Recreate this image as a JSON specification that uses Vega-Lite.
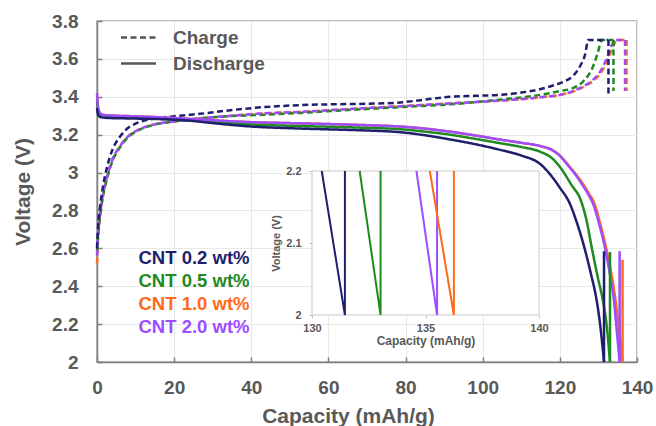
{
  "$schema": "https://vega.github.io/schema/vega-lite/v6.json",
  "autosize": {"type": "none"},
  "padding": {"left": 97, "top": 21, "right": 19, "bottom": 64},
  "width": 540,
  "height": 341,
  "config": {
    "font": "Liberation Sans",
    "view": {"stroke": "#a6a6a6", "strokeWidth": 1.5},
    "background": "white"
  },
  "datasets": {
    "main": [
      {"s":"CNT 1.0 wt%","t":"Charge","i":0,"c":0,"v":2.52},{"s":"CNT 1.0 wt%","t":"Charge","i":1,"c":0.3,"v":2.66},{"s":"CNT 1.0 wt%","t":"Charge","i":2,"c":0.8,"v":2.77},{"s":"CNT 1.0 wt%","t":"Charge","i":3,"c":1.5,"v":2.87},{"s":"CNT 1.0 wt%","t":"Charge","i":4,"c":2.5,"v":2.965},{"s":"CNT 1.0 wt%","t":"Charge","i":5,"c":4,"v":3.065},{"s":"CNT 1.0 wt%","t":"Charge","i":6,"c":6,"v":3.14},{"s":"CNT 1.0 wt%","t":"Charge","i":7,"c":8,"v":3.19},{"s":"CNT 1.0 wt%","t":"Charge","i":8,"c":10,"v":3.218},{"s":"CNT 1.0 wt%","t":"Charge","i":9,"c":14,"v":3.25},{"s":"CNT 1.0 wt%","t":"Charge","i":10,"c":20,"v":3.27},{"s":"CNT 1.0 wt%","t":"Charge","i":11,"c":26.7,"v":3.286},{"s":"CNT 1.0 wt%","t":"Charge","i":12,"c":35,"v":3.3},{"s":"CNT 1.0 wt%","t":"Charge","i":13,"c":43,"v":3.312},{"s":"CNT 1.0 wt%","t":"Charge","i":14,"c":52.6,"v":3.32},{"s":"CNT 1.0 wt%","t":"Charge","i":15,"c":65,"v":3.335},{"s":"CNT 1.0 wt%","t":"Charge","i":16,"c":78.6,"v":3.35},{"s":"CNT 1.0 wt%","t":"Charge","i":17,"c":91.5,"v":3.365},{"s":"CNT 1.0 wt%","t":"Charge","i":18,"c":104.5,"v":3.38},{"s":"CNT 1.0 wt%","t":"Charge","i":19,"c":114.9,"v":3.397},{"s":"CNT 1.0 wt%","t":"Charge","i":20,"c":120,"v":3.41},{"s":"CNT 1.0 wt%","t":"Charge","i":21,"c":123.8,"v":3.43},{"s":"CNT 1.0 wt%","t":"Charge","i":22,"c":126.4,"v":3.455},{"s":"CNT 1.0 wt%","t":"Charge","i":23,"c":129,"v":3.49},{"s":"CNT 1.0 wt%","t":"Charge","i":24,"c":130.4,"v":3.52},{"s":"CNT 1.0 wt%","t":"Charge","i":25,"c":131.6,"v":3.56},{"s":"CNT 1.0 wt%","t":"Charge","i":26,"c":132.9,"v":3.62},{"s":"CNT 1.0 wt%","t":"Charge","i":27,"c":133.9,"v":3.67},{"s":"CNT 1.0 wt%","t":"Charge","i":28,"c":134.8,"v":3.7},{"s":"CNT 1.0 wt%","t":"Charge","i":29,"c":137.3,"v":3.7},
      {"s":"CNT 0.5 wt%","t":"Charge","i":0,"c":0,"v":2.58},{"s":"CNT 0.5 wt%","t":"Charge","i":1,"c":0.3,"v":2.67},{"s":"CNT 0.5 wt%","t":"Charge","i":2,"c":0.8,"v":2.77},{"s":"CNT 0.5 wt%","t":"Charge","i":3,"c":1.5,"v":2.87},{"s":"CNT 0.5 wt%","t":"Charge","i":4,"c":2.5,"v":2.96},{"s":"CNT 0.5 wt%","t":"Charge","i":5,"c":4,"v":3.06},{"s":"CNT 0.5 wt%","t":"Charge","i":6,"c":6,"v":3.135},{"s":"CNT 0.5 wt%","t":"Charge","i":7,"c":8,"v":3.185},{"s":"CNT 0.5 wt%","t":"Charge","i":8,"c":10,"v":3.215},{"s":"CNT 0.5 wt%","t":"Charge","i":9,"c":14,"v":3.248},{"s":"CNT 0.5 wt%","t":"Charge","i":10,"c":20,"v":3.27},{"s":"CNT 0.5 wt%","t":"Charge","i":11,"c":26.7,"v":3.286},{"s":"CNT 0.5 wt%","t":"Charge","i":12,"c":35,"v":3.298},{"s":"CNT 0.5 wt%","t":"Charge","i":13,"c":43,"v":3.305},{"s":"CNT 0.5 wt%","t":"Charge","i":14,"c":52.6,"v":3.315},{"s":"CNT 0.5 wt%","t":"Charge","i":15,"c":65,"v":3.33},{"s":"CNT 0.5 wt%","t":"Charge","i":16,"c":78.6,"v":3.345},{"s":"CNT 0.5 wt%","t":"Charge","i":17,"c":91.5,"v":3.36},{"s":"CNT 0.5 wt%","t":"Charge","i":18,"c":104.5,"v":3.385},{"s":"CNT 0.5 wt%","t":"Charge","i":19,"c":114.9,"v":3.41},{"s":"CNT 0.5 wt%","t":"Charge","i":20,"c":120,"v":3.43},{"s":"CNT 0.5 wt%","t":"Charge","i":21,"c":123.4,"v":3.446},{"s":"CNT 0.5 wt%","t":"Charge","i":22,"c":126,"v":3.48},{"s":"CNT 0.5 wt%","t":"Charge","i":23,"c":128.6,"v":3.56},{"s":"CNT 0.5 wt%","t":"Charge","i":24,"c":129.8,"v":3.63},{"s":"CNT 0.5 wt%","t":"Charge","i":25,"c":130.9,"v":3.7},{"s":"CNT 0.5 wt%","t":"Charge","i":26,"c":133.9,"v":3.7},
      {"s":"CNT 2.0 wt%","t":"Charge","i":0,"c":0,"v":2.56},{"s":"CNT 2.0 wt%","t":"Charge","i":1,"c":0.3,"v":2.68},{"s":"CNT 2.0 wt%","t":"Charge","i":2,"c":0.8,"v":2.78},{"s":"CNT 2.0 wt%","t":"Charge","i":3,"c":1.5,"v":2.88},{"s":"CNT 2.0 wt%","t":"Charge","i":4,"c":2.5,"v":2.97},{"s":"CNT 2.0 wt%","t":"Charge","i":5,"c":4,"v":3.07},{"s":"CNT 2.0 wt%","t":"Charge","i":6,"c":6,"v":3.14},{"s":"CNT 2.0 wt%","t":"Charge","i":7,"c":8,"v":3.19},{"s":"CNT 2.0 wt%","t":"Charge","i":8,"c":10,"v":3.218},{"s":"CNT 2.0 wt%","t":"Charge","i":9,"c":14,"v":3.25},{"s":"CNT 2.0 wt%","t":"Charge","i":10,"c":20,"v":3.27},{"s":"CNT 2.0 wt%","t":"Charge","i":11,"c":26.7,"v":3.286},{"s":"CNT 2.0 wt%","t":"Charge","i":12,"c":35,"v":3.3},{"s":"CNT 2.0 wt%","t":"Charge","i":13,"c":43,"v":3.312},{"s":"CNT 2.0 wt%","t":"Charge","i":14,"c":52.6,"v":3.32},{"s":"CNT 2.0 wt%","t":"Charge","i":15,"c":65,"v":3.335},{"s":"CNT 2.0 wt%","t":"Charge","i":16,"c":78.6,"v":3.35},{"s":"CNT 2.0 wt%","t":"Charge","i":17,"c":91.5,"v":3.365},{"s":"CNT 2.0 wt%","t":"Charge","i":18,"c":104.5,"v":3.38},{"s":"CNT 2.0 wt%","t":"Charge","i":19,"c":114.9,"v":3.397},{"s":"CNT 2.0 wt%","t":"Charge","i":20,"c":120,"v":3.41},{"s":"CNT 2.0 wt%","t":"Charge","i":21,"c":123.4,"v":3.43},{"s":"CNT 2.0 wt%","t":"Charge","i":22,"c":126,"v":3.455},{"s":"CNT 2.0 wt%","t":"Charge","i":23,"c":128.6,"v":3.49},{"s":"CNT 2.0 wt%","t":"Charge","i":24,"c":130,"v":3.52},{"s":"CNT 2.0 wt%","t":"Charge","i":25,"c":131.2,"v":3.56},{"s":"CNT 2.0 wt%","t":"Charge","i":26,"c":132.5,"v":3.62},{"s":"CNT 2.0 wt%","t":"Charge","i":27,"c":133.4,"v":3.67},{"s":"CNT 2.0 wt%","t":"Charge","i":28,"c":134.3,"v":3.7},{"s":"CNT 2.0 wt%","t":"Charge","i":29,"c":136.9,"v":3.7},
      {"s":"CNT 0.2 wt%","t":"Charge","i":0,"c":0,"v":2.6},{"s":"CNT 0.2 wt%","t":"Charge","i":1,"c":0.3,"v":2.72},{"s":"CNT 0.2 wt%","t":"Charge","i":2,"c":0.8,"v":2.82},{"s":"CNT 0.2 wt%","t":"Charge","i":3,"c":1.5,"v":2.92},{"s":"CNT 0.2 wt%","t":"Charge","i":4,"c":2.5,"v":3.02},{"s":"CNT 0.2 wt%","t":"Charge","i":5,"c":4,"v":3.12},{"s":"CNT 0.2 wt%","t":"Charge","i":6,"c":6,"v":3.19},{"s":"CNT 0.2 wt%","t":"Charge","i":7,"c":8,"v":3.235},{"s":"CNT 0.2 wt%","t":"Charge","i":8,"c":10,"v":3.258},{"s":"CNT 0.2 wt%","t":"Charge","i":9,"c":14,"v":3.282},{"s":"CNT 0.2 wt%","t":"Charge","i":10,"c":20,"v":3.297},{"s":"CNT 0.2 wt%","t":"Charge","i":11,"c":26.7,"v":3.31},{"s":"CNT 0.2 wt%","t":"Charge","i":12,"c":35,"v":3.33},{"s":"CNT 0.2 wt%","t":"Charge","i":13,"c":43,"v":3.345},{"s":"CNT 0.2 wt%","t":"Charge","i":14,"c":52.6,"v":3.356},{"s":"CNT 0.2 wt%","t":"Charge","i":15,"c":60,"v":3.36},{"s":"CNT 0.2 wt%","t":"Charge","i":16,"c":70,"v":3.363},{"s":"CNT 0.2 wt%","t":"Charge","i":17,"c":78.6,"v":3.37},{"s":"CNT 0.2 wt%","t":"Charge","i":18,"c":85,"v":3.385},{"s":"CNT 0.2 wt%","t":"Charge","i":19,"c":91.5,"v":3.4},{"s":"CNT 0.2 wt%","t":"Charge","i":20,"c":98,"v":3.405},{"s":"CNT 0.2 wt%","t":"Charge","i":21,"c":104.5,"v":3.41},{"s":"CNT 0.2 wt%","t":"Charge","i":22,"c":110,"v":3.422},{"s":"CNT 0.2 wt%","t":"Charge","i":23,"c":114.9,"v":3.44},{"s":"CNT 0.2 wt%","t":"Charge","i":24,"c":118,"v":3.458},{"s":"CNT 0.2 wt%","t":"Charge","i":25,"c":121,"v":3.48},{"s":"CNT 0.2 wt%","t":"Charge","i":26,"c":123.4,"v":3.51},{"s":"CNT 0.2 wt%","t":"Charge","i":27,"c":125.2,"v":3.56},{"s":"CNT 0.2 wt%","t":"Charge","i":28,"c":126.5,"v":3.62},{"s":"CNT 0.2 wt%","t":"Charge","i":29,"c":127.4,"v":3.7},{"s":"CNT 0.2 wt%","t":"Charge","i":30,"c":132.6,"v":3.7},
      {"s":"CNT 1.0 wt%","t":"Discharge","i":0,"c":0,"v":3.4},{"s":"CNT 1.0 wt%","t":"Discharge","i":1,"c":0.2,"v":3.355},{"s":"CNT 1.0 wt%","t":"Discharge","i":2,"c":0.6,"v":3.32},{"s":"CNT 1.0 wt%","t":"Discharge","i":3,"c":1.5,"v":3.305},{"s":"CNT 1.0 wt%","t":"Discharge","i":4,"c":5,"v":3.3},{"s":"CNT 1.0 wt%","t":"Discharge","i":5,"c":10,"v":3.297},{"s":"CNT 1.0 wt%","t":"Discharge","i":6,"c":20,"v":3.288},{"s":"CNT 1.0 wt%","t":"Discharge","i":7,"c":25,"v":3.282},{"s":"CNT 1.0 wt%","t":"Discharge","i":8,"c":30,"v":3.276},{"s":"CNT 1.0 wt%","t":"Discharge","i":9,"c":40,"v":3.266},{"s":"CNT 1.0 wt%","t":"Discharge","i":10,"c":50,"v":3.261},{"s":"CNT 1.0 wt%","t":"Discharge","i":11,"c":60,"v":3.256},{"s":"CNT 1.0 wt%","t":"Discharge","i":12,"c":70,"v":3.25},{"s":"CNT 1.0 wt%","t":"Discharge","i":13,"c":78.6,"v":3.243},{"s":"CNT 1.0 wt%","t":"Discharge","i":14,"c":85,"v":3.232},{"s":"CNT 1.0 wt%","t":"Discharge","i":15,"c":91.5,"v":3.216},{"s":"CNT 1.0 wt%","t":"Discharge","i":16,"c":98,"v":3.196},{"s":"CNT 1.0 wt%","t":"Discharge","i":17,"c":104.5,"v":3.174},{"s":"CNT 1.0 wt%","t":"Discharge","i":18,"c":110,"v":3.157},{"s":"CNT 1.0 wt%","t":"Discharge","i":19,"c":114.9,"v":3.14},{"s":"CNT 1.0 wt%","t":"Discharge","i":20,"c":118,"v":3.12},{"s":"CNT 1.0 wt%","t":"Discharge","i":21,"c":120,"v":3.09},{"s":"CNT 1.0 wt%","t":"Discharge","i":22,"c":122,"v":3.045},{"s":"CNT 1.0 wt%","t":"Discharge","i":23,"c":124,"v":2.995},{"s":"CNT 1.0 wt%","t":"Discharge","i":24,"c":126,"v":2.94},{"s":"CNT 1.0 wt%","t":"Discharge","i":25,"c":127.5,"v":2.89},{"s":"CNT 1.0 wt%","t":"Discharge","i":26,"c":128.8,"v":2.845},{"s":"CNT 1.0 wt%","t":"Discharge","i":27,"c":130.6,"v":2.72},{"s":"CNT 1.0 wt%","t":"Discharge","i":28,"c":132.1,"v":2.593},{"s":"CNT 1.0 wt%","t":"Discharge","i":29,"c":133.4,"v":2.46},{"s":"CNT 1.0 wt%","t":"Discharge","i":30,"c":134.4,"v":2.33},{"s":"CNT 1.0 wt%","t":"Discharge","i":31,"c":135.2,"v":2.2},{"s":"CNT 1.0 wt%","t":"Discharge","i":32,"c":136.25,"v":2.0},
      {"s":"CNT 0.5 wt%","t":"Discharge","i":0,"c":0,"v":3.38},{"s":"CNT 0.5 wt%","t":"Discharge","i":1,"c":0.3,"v":3.32},{"s":"CNT 0.5 wt%","t":"Discharge","i":2,"c":1,"v":3.305},{"s":"CNT 0.5 wt%","t":"Discharge","i":3,"c":3,"v":3.298},{"s":"CNT 0.5 wt%","t":"Discharge","i":4,"c":10,"v":3.29},{"s":"CNT 0.5 wt%","t":"Discharge","i":5,"c":20,"v":3.28},{"s":"CNT 0.5 wt%","t":"Discharge","i":6,"c":25,"v":3.274},{"s":"CNT 0.5 wt%","t":"Discharge","i":7,"c":30,"v":3.266},{"s":"CNT 0.5 wt%","t":"Discharge","i":8,"c":40,"v":3.254},{"s":"CNT 0.5 wt%","t":"Discharge","i":9,"c":50,"v":3.247},{"s":"CNT 0.5 wt%","t":"Discharge","i":10,"c":60,"v":3.242},{"s":"CNT 0.5 wt%","t":"Discharge","i":11,"c":70,"v":3.236},{"s":"CNT 0.5 wt%","t":"Discharge","i":12,"c":78.6,"v":3.229},{"s":"CNT 0.5 wt%","t":"Discharge","i":13,"c":85,"v":3.216},{"s":"CNT 0.5 wt%","t":"Discharge","i":14,"c":91.5,"v":3.2},{"s":"CNT 0.5 wt%","t":"Discharge","i":15,"c":98,"v":3.178},{"s":"CNT 0.5 wt%","t":"Discharge","i":16,"c":104.5,"v":3.155},{"s":"CNT 0.5 wt%","t":"Discharge","i":17,"c":110,"v":3.135},{"s":"CNT 0.5 wt%","t":"Discharge","i":18,"c":114.9,"v":3.11},{"s":"CNT 0.5 wt%","t":"Discharge","i":19,"c":118,"v":3.075},{"s":"CNT 0.5 wt%","t":"Discharge","i":20,"c":120,"v":3.03},{"s":"CNT 0.5 wt%","t":"Discharge","i":21,"c":123,"v":2.935},{"s":"CNT 0.5 wt%","t":"Discharge","i":22,"c":125.5,"v":2.85},{"s":"CNT 0.5 wt%","t":"Discharge","i":23,"c":127,"v":2.74},{"s":"CNT 0.5 wt%","t":"Discharge","i":24,"c":128.3,"v":2.6},{"s":"CNT 0.5 wt%","t":"Discharge","i":25,"c":129.8,"v":2.45},{"s":"CNT 0.5 wt%","t":"Discharge","i":26,"c":131.2,"v":2.32},{"s":"CNT 0.5 wt%","t":"Discharge","i":27,"c":132.1,"v":2.2},{"s":"CNT 0.5 wt%","t":"Discharge","i":28,"c":133.0,"v":2.0},
      {"s":"CNT 2.0 wt%","t":"Discharge","i":0,"c":0,"v":3.42},{"s":"CNT 2.0 wt%","t":"Discharge","i":1,"c":0.2,"v":3.36},{"s":"CNT 2.0 wt%","t":"Discharge","i":2,"c":0.6,"v":3.32},{"s":"CNT 2.0 wt%","t":"Discharge","i":3,"c":1.5,"v":3.305},{"s":"CNT 2.0 wt%","t":"Discharge","i":4,"c":5,"v":3.3},{"s":"CNT 2.0 wt%","t":"Discharge","i":5,"c":10,"v":3.297},{"s":"CNT 2.0 wt%","t":"Discharge","i":6,"c":20,"v":3.288},{"s":"CNT 2.0 wt%","t":"Discharge","i":7,"c":25,"v":3.282},{"s":"CNT 2.0 wt%","t":"Discharge","i":8,"c":30,"v":3.276},{"s":"CNT 2.0 wt%","t":"Discharge","i":9,"c":40,"v":3.266},{"s":"CNT 2.0 wt%","t":"Discharge","i":10,"c":50,"v":3.261},{"s":"CNT 2.0 wt%","t":"Discharge","i":11,"c":60,"v":3.256},{"s":"CNT 2.0 wt%","t":"Discharge","i":12,"c":70,"v":3.25},{"s":"CNT 2.0 wt%","t":"Discharge","i":13,"c":78.6,"v":3.243},{"s":"CNT 2.0 wt%","t":"Discharge","i":14,"c":85,"v":3.232},{"s":"CNT 2.0 wt%","t":"Discharge","i":15,"c":91.5,"v":3.216},{"s":"CNT 2.0 wt%","t":"Discharge","i":16,"c":98,"v":3.196},{"s":"CNT 2.0 wt%","t":"Discharge","i":17,"c":104.5,"v":3.174},{"s":"CNT 2.0 wt%","t":"Discharge","i":18,"c":110,"v":3.157},{"s":"CNT 2.0 wt%","t":"Discharge","i":19,"c":114.9,"v":3.14},{"s":"CNT 2.0 wt%","t":"Discharge","i":20,"c":118,"v":3.118},{"s":"CNT 2.0 wt%","t":"Discharge","i":21,"c":120,"v":3.088},{"s":"CNT 2.0 wt%","t":"Discharge","i":22,"c":122,"v":3.04},{"s":"CNT 2.0 wt%","t":"Discharge","i":23,"c":124,"v":2.99},{"s":"CNT 2.0 wt%","t":"Discharge","i":24,"c":126,"v":2.93},{"s":"CNT 2.0 wt%","t":"Discharge","i":25,"c":127.5,"v":2.88},{"s":"CNT 2.0 wt%","t":"Discharge","i":26,"c":128.5,"v":2.84},{"s":"CNT 2.0 wt%","t":"Discharge","i":27,"c":130.3,"v":2.72},{"s":"CNT 2.0 wt%","t":"Discharge","i":28,"c":131.8,"v":2.593},{"s":"CNT 2.0 wt%","t":"Discharge","i":29,"c":133,"v":2.46},{"s":"CNT 2.0 wt%","t":"Discharge","i":30,"c":134,"v":2.33},{"s":"CNT 2.0 wt%","t":"Discharge","i":31,"c":134.6,"v":2.2},{"s":"CNT 2.0 wt%","t":"Discharge","i":32,"c":135.5,"v":2.0},
      {"s":"CNT 0.2 wt%","t":"Discharge","i":0,"c":0,"v":3.34},{"s":"CNT 0.2 wt%","t":"Discharge","i":1,"c":0.3,"v":3.305},{"s":"CNT 0.2 wt%","t":"Discharge","i":2,"c":1,"v":3.292},{"s":"CNT 0.2 wt%","t":"Discharge","i":3,"c":3,"v":3.288},{"s":"CNT 0.2 wt%","t":"Discharge","i":4,"c":10,"v":3.285},{"s":"CNT 0.2 wt%","t":"Discharge","i":5,"c":20,"v":3.279},{"s":"CNT 0.2 wt%","t":"Discharge","i":6,"c":25,"v":3.272},{"s":"CNT 0.2 wt%","t":"Discharge","i":7,"c":30,"v":3.261},{"s":"CNT 0.2 wt%","t":"Discharge","i":8,"c":40,"v":3.243},{"s":"CNT 0.2 wt%","t":"Discharge","i":9,"c":50,"v":3.234},{"s":"CNT 0.2 wt%","t":"Discharge","i":10,"c":60,"v":3.228},{"s":"CNT 0.2 wt%","t":"Discharge","i":11,"c":70,"v":3.222},{"s":"CNT 0.2 wt%","t":"Discharge","i":12,"c":78.6,"v":3.213},{"s":"CNT 0.2 wt%","t":"Discharge","i":13,"c":85,"v":3.197},{"s":"CNT 0.2 wt%","t":"Discharge","i":14,"c":91.5,"v":3.175},{"s":"CNT 0.2 wt%","t":"Discharge","i":15,"c":98,"v":3.15},{"s":"CNT 0.2 wt%","t":"Discharge","i":16,"c":104.5,"v":3.12},{"s":"CNT 0.2 wt%","t":"Discharge","i":17,"c":110,"v":3.09},{"s":"CNT 0.2 wt%","t":"Discharge","i":18,"c":114.9,"v":3.045},{"s":"CNT 0.2 wt%","t":"Discharge","i":19,"c":117.5,"v":2.99},{"s":"CNT 0.2 wt%","t":"Discharge","i":20,"c":120,"v":2.92},{"s":"CNT 0.2 wt%","t":"Discharge","i":21,"c":122.5,"v":2.84},{"s":"CNT 0.2 wt%","t":"Discharge","i":22,"c":124.5,"v":2.73},{"s":"CNT 0.2 wt%","t":"Discharge","i":23,"c":126.5,"v":2.593},{"s":"CNT 0.2 wt%","t":"Discharge","i":24,"c":128,"v":2.47},{"s":"CNT 0.2 wt%","t":"Discharge","i":25,"c":129.5,"v":2.33},{"s":"CNT 0.2 wt%","t":"Discharge","i":26,"c":130.43,"v":2.2},{"s":"CNT 0.2 wt%","t":"Discharge","i":27,"c":131.45,"v":2.0}
    ],
    "jumps": [
      {"s":"CNT 1.0 wt%","t":"Charge","i":0,"c":137.3,"v":3.7},{"s":"CNT 1.0 wt%","t":"Charge","i":1,"c":137.3,"v":3.43},
      {"s":"CNT 0.5 wt%","t":"Charge","i":0,"c":133.9,"v":3.7},{"s":"CNT 0.5 wt%","t":"Charge","i":1,"c":133.9,"v":3.43},
      {"s":"CNT 2.0 wt%","t":"Charge","i":0,"c":136.9,"v":3.7},{"s":"CNT 2.0 wt%","t":"Charge","i":1,"c":136.9,"v":3.43},
      {"s":"CNT 0.2 wt%","t":"Charge","i":0,"c":132.6,"v":3.7},{"s":"CNT 0.2 wt%","t":"Charge","i":1,"c":132.6,"v":3.41},
      {"s":"CNT 1.0 wt%","t":"Discharge","i":0,"c":136.25,"v":2.0},{"s":"CNT 1.0 wt%","t":"Discharge","i":1,"c":136.25,"v":2.54},
      {"s":"CNT 0.5 wt%","t":"Discharge","i":0,"c":133.0,"v":2.0},{"s":"CNT 0.5 wt%","t":"Discharge","i":1,"c":133.0,"v":2.58},
      {"s":"CNT 2.0 wt%","t":"Discharge","i":0,"c":135.5,"v":2.0},{"s":"CNT 2.0 wt%","t":"Discharge","i":1,"c":135.5,"v":2.585},
      {"s":"CNT 0.2 wt%","t":"Discharge","i":0,"c":131.45,"v":2.0},{"s":"CNT 0.2 wt%","t":"Discharge","i":1,"c":131.45,"v":2.585}
    ],
    "inset": [
      {"s":"CNT 0.2 wt%","i":0,"c":130.43,"v":2.2},{"s":"CNT 0.2 wt%","i":1,"c":131.45,"v":2.0},{"s":"CNT 0.2 wt%","i":2,"c":131.45,"v":2.2},
      {"s":"CNT 0.5 wt%","i":0,"c":132.1,"v":2.2},{"s":"CNT 0.5 wt%","i":1,"c":133.02,"v":2.0},{"s":"CNT 0.5 wt%","i":2,"c":133.02,"v":2.2},
      {"s":"CNT 2.0 wt%","i":0,"c":134.6,"v":2.2},{"s":"CNT 2.0 wt%","i":1,"c":135.51,"v":2.0},{"s":"CNT 2.0 wt%","i":2,"c":135.51,"v":2.2},
      {"s":"CNT 1.0 wt%","i":0,"c":135.19,"v":2.2},{"s":"CNT 1.0 wt%","i":1,"c":136.25,"v":2.0},{"s":"CNT 1.0 wt%","i":2,"c":136.25,"v":2.2}
    ],
    "box": [{"x1":130,"x2":140,"y1":2,"y2":2.2}]
  },
  "layer": [
    {
      "encoding": {
        "x": {"field": "c", "type": "quantitative",
          "scale": {"domain": [0, 140], "nice": false},
          "axis": {"values": [0,20,40,60,80,100,120,140], "title": "Capacity (mAh/g)", "labelFlush": false,
            "grid": true, "gridColor": "#e8e8e8", "domainColor": "#7f7f7f", "domainWidth": 1.5,
            "tickColor": "#7f7f7f", "tickSize": -5, "tickWidth": 1.5,
            "labelFont": "Liberation Sans", "labelFontSize": 19, "labelFontWeight": "bold", "labelColor": "#595959", "labelPadding": 21,
            "titleFont": "Liberation Sans", "titleFontSize": 21, "titleFontWeight": "bold", "titleColor": "#595959", "titlePadding": 8, "titleX": 251}},
        "y": {"field": "v", "type": "quantitative",
          "scale": {"domain": [2, 3.8], "nice": false, "zero": false},
          "axis": {"values": [2,2.2,2.4,2.6,2.8,3,3.2,3.4,3.6,3.8], "format": "~g", "title": "Voltage (V)",
            "grid": true, "gridColor": "#e8e8e8", "domainColor": "#7f7f7f", "domainWidth": 1.5,
            "tickColor": "#7f7f7f", "tickSize": -5, "tickWidth": 1.5,
            "labelFont": "Liberation Sans", "labelFontSize": 19, "labelFontWeight": "bold", "labelColor": "#595959", "labelPadding": 24,
            "titleFont": "Liberation Sans", "titleFontSize": 21, "titleFontWeight": "bold", "titleColor": "#595959", "titlePadding": 18}},
        "color": {"field": "s", "type": "nominal",
          "scale": {"domain": ["CNT 0.2 wt%","CNT 0.5 wt%","CNT 1.0 wt%","CNT 2.0 wt%"], "range": ["#1f1f6e","#1f8a1f","#ff6a1a","#9d4dff"]},
          "legend": {"orient": "none", "legendX": 23, "legendY": 228, "title": null, "padding": 0,
            "symbolSize": 0, "symbolOpacity": 0, "symbolStrokeWidth": 0, "labelOffset": 0, "rowPadding": 4,
            "labelFont": "Liberation Sans", "labelFontSize": 18.5, "labelFontWeight": "bold",
            "encode": {"labels": {"update": {"fill": {"scale": "color", "field": "value"}}}}}},
        "strokeDash": {"field": "t", "type": "nominal",
          "scale": {"domain": ["Charge","Discharge"], "range": [[6,3.5],[1,0]]},
          "legend": {"orient": "none", "legendX": 32, "legendY": 7, "title": null, "padding": 0,
            "symbolType": "M-3.5,0H3.5", "symbolSize": 100, "symbolStrokeColor": "#555555", "symbolStrokeWidth": 2.5,
            "labelOffset": 25, "rowPadding": 6,
            "labelFont": "Liberation Sans", "labelFontSize": 19, "labelFontWeight": "bold", "labelColor": "#595959"}},
        "order": {"field": "i", "type": "quantitative"}
      },
      "layer": [
        {"data": {"name": "main"}, "mark": {"type": "line", "strokeWidth": 2.5, "interpolate": "monotone"}},
        {"data": {"name": "jumps"}, "mark": {"type": "line", "strokeWidth": 2.5}}
      ]
    },
    {
      "layer": [
        {
          "data": {"name": "box"},
          "mark": {"type": "rect", "fill": "white", "stroke": "#c8c8c8", "strokeWidth": 1},
          "encoding": {
            "x": {"field": "x1", "type": "quantitative",
              "scale": {"domain": [130, 140], "range": [215, 442], "nice": false, "zero": false},
              "axis": {"orient": "bottom", "offset": -47, "values": [130,135,140], "title": "Capacity (mAh/g)",
                "grid": false, "domain": false, "tickColor": "#bfbfbf", "tickSize": 3, "labelFlush": false,
                "labelFont": "Liberation Sans", "labelFontSize": 11, "labelFontWeight": "bold", "labelColor": "#595959", "labelPadding": 4,
                "titleFont": "Liberation Sans", "titleFontSize": 12, "titleFontWeight": "bold", "titleColor": "#595959", "titlePadding": 2}},
            "x2": {"field": "x2"},
            "y": {"field": "y1", "type": "quantitative",
              "scale": {"domain": [2, 2.2], "range": [294, 150], "nice": false, "zero": false},
              "axis": {"orient": "left", "offset": -215, "values": [2, 2.1, 2.2], "format": "~g", "title": "Voltage (V)",
                "grid": false, "domain": false, "tickColor": "#bfbfbf", "tickSize": 3,
                "labelFont": "Liberation Sans", "labelFontSize": 11, "labelFontWeight": "bold", "labelColor": "#595959", "labelPadding": 8,
                "titleFont": "Liberation Sans", "titleFontSize": 11, "titleFontWeight": "bold", "titleColor": "#595959", "titlePadding": 4}},
            "y2": {"field": "y2"}
          }
        },
        {
          "data": {"name": "inset"},
          "mark": {"type": "line", "strokeWidth": 2},
          "encoding": {
            "x": {"field": "c", "type": "quantitative",
              "scale": {"domain": [130, 140], "range": [215, 442], "nice": false, "zero": false},
              "axis": {"orient": "bottom", "offset": -47, "values": [130,135,140], "title": "Capacity (mAh/g)",
                "grid": false, "domain": false, "tickColor": "#bfbfbf", "tickSize": 3, "labelFlush": false,
                "labelFont": "Liberation Sans", "labelFontSize": 11, "labelFontWeight": "bold", "labelColor": "#595959", "labelPadding": 4,
                "titleFont": "Liberation Sans", "titleFontSize": 12, "titleFontWeight": "bold", "titleColor": "#595959", "titlePadding": 2}},
            "y": {"field": "v", "type": "quantitative",
              "scale": {"domain": [2, 2.2], "range": [294, 150], "nice": false, "zero": false},
              "axis": {"orient": "left", "offset": -215, "values": [2, 2.1, 2.2], "format": "~g", "title": "Voltage (V)",
                "grid": false, "domain": false, "tickColor": "#bfbfbf", "tickSize": 3,
                "labelFont": "Liberation Sans", "labelFontSize": 11, "labelFontWeight": "bold", "labelColor": "#595959", "labelPadding": 8,
                "titleFont": "Liberation Sans", "titleFontSize": 11, "titleFontWeight": "bold", "titleColor": "#595959", "titlePadding": 4}},
            "color": {"field": "s", "type": "nominal"},
            "order": {"field": "i", "type": "quantitative"}
          }
        }
      ]
    }
  ],
  "resolve": {"scale": {"x": "independent", "y": "independent"}}
}
